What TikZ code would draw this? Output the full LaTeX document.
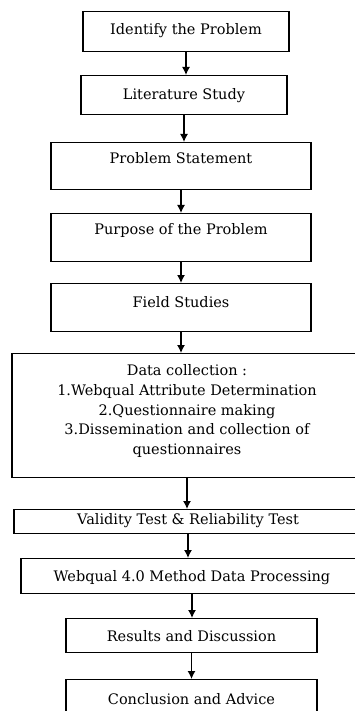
\documentclass[tikz,border=0pt]{standalone}
\usepackage{fontspec}
\setmainfont{DejaVu Serif}
\usetikzlibrary{arrows.meta}

\tikzstyle{stage} = [rectangle, draw=black, line width=1.3pt, inner xsep=4pt, inner ysep=0pt, anchor=north, font=\fontsize{14.5}{19.8}\selectfont]
\tikzstyle{arrow} = [line width=1.3pt,-{Latex[length=8pt,width=8pt]}]

\begin{document}
\begin{tikzpicture}[x=1pt,y=-1pt]

\useasboundingbox (0,0) rectangle (355,711);
\clip (0,0) rectangle (355,711);

\node (identify) [stage, minimum width=206pt, text height=22.5pt, text depth=17.5pt] at (186,11) {Identify the Problem};
\node (literature) [stage, minimum width=206pt, text height=23.5pt, text depth=15.5pt] at (184,75) {Literature Study};
\node (statement) [stage, minimum width=260pt, text height=20.5pt, text depth=26.5pt] at (181,142) {Problem Statement};
\node (purpose) [stage, minimum width=260pt, text height=20.5pt, text depth=27.5pt] at (181,213) {Purpose of the Problem};
\node (field) [stage, minimum width=260pt, text height=23.5pt, text depth=24.5pt] at (181,283) {Field Studies};
\node (collection) [stage, minimum width=350pt, minimum height=124pt, align=center, text depth=12pt] at (187,353) {Data collection :\\1.Webqual Attribute Determination\\2.Questionnaire making\\3.Dissemination and collection of\\questionnaires};
\node (validity) [stage, minimum width=348pt, text height=14.5pt, text depth=9.5pt] at (188,509) {Validity Test \& Reliability Test};
\node (processing) [stage, minimum width=342pt, text height=22.5pt, text depth=12.5pt] at (192,558) {Webqual 4.0 Method Data Processing};
\node (results) [stage, minimum width=251pt, text height=22.5pt, text depth=11.5pt] at (191.5,618) {Results and Discussion};
\node (conclusion) [stage, minimum width=251pt, text height=24.5pt, text depth=21.5pt] at (191.5,679) {Conclusion and Advice};

\draw [arrow] (identify) -- (identify |- literature.north);
\draw [arrow] (literature) -- (literature |- statement.north);
\draw [arrow] (statement) -- (statement |- purpose.north);
\draw [arrow] (purpose) -- (purpose |- field.north);
\draw [arrow] (field) -- (field |- collection.north);
\draw [arrow] (collection) -- (collection |- validity.north);
\draw [arrow] (validity) -- (validity |- processing.north);
\draw [arrow] (processing) -- (processing |- results.north);
\draw [arrow] (results) -- (results |- conclusion.north);

\end{tikzpicture}
\end{document}
